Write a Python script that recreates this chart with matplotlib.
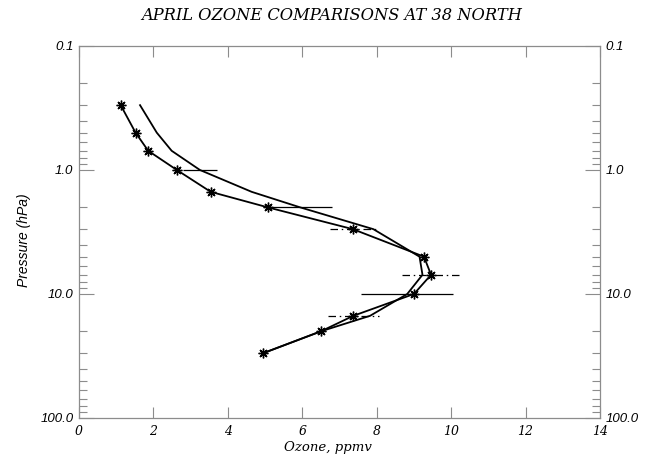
import matplotlib
matplotlib.use("Agg")
import matplotlib.pyplot as plt
from matplotlib.ticker import FixedLocator, FixedFormatter, NullFormatter, LogLocator
import numpy as np

# pressure levels (hPa)
pressure = [0.3, 0.5, 0.7, 1.0, 1.5, 2.0, 3.0, 5.0, 7.0, 10.0, 15.0, 20.0, 30.0]
# ozone with asterisks
ozone_star = [1.12, 1.52, 1.86, 2.63, 3.54, 5.07, 7.36, 9.27, 9.46, 9.00, 7.37, 6.50, 4.95]
# ozone, plain line
ozone_line = [1.64, 2.09, 2.49, 3.25, 4.64, 5.94, 7.91, 9.15, 9.23, 8.82, 7.82, 6.50, 4.95]

# solid error bars (around plain line)
err_solid_p = [1.0, 2.0, 10.0]
err_solid_x = [3.25, 5.93, 8.81]
err_solid_half = [0.45, 0.86, 1.23]
# dash-dot error bars (around asterisk line)
err_dd_p = [3.0, 7.0, 15.0]
err_dd_x = [7.36, 9.47, 7.38]
err_dd_half = [0.61, 0.80, 0.69]

xticks = [0, 2, 4, 6, 8, 10, 12, 14]
yticks = [0.1, 1.0, 10.0, 100.0]
ylabels = ["0.1", "1.0", "10.0", "100.0"]

frame_col = "#8c8c8c"
serif_it = dict(family="DejaVu Serif", style="italic")
sans_it = dict(family="Liberation Sans", style="italic")

fig = plt.figure(figsize=(6.53, 4.57), dpi=100)
ax = fig.add_axes([79 / 653, 1 - 418 / 457, 521 / 653, 372 / 457])

ax.plot(ozone_line, pressure, color="k", lw=1.3)
ax.plot(ozone_star, pressure, color="k", lw=1.3, marker=(8, 2, 0),
        markersize=7, markeredgewidth=1.0)

sx = np.array(err_solid_x)
sh = np.array(err_solid_half)
ax.hlines(err_solid_p, sx - sh, sx + sh, colors="k", linewidth=0.9)
dx = np.array(err_dd_x)
dh = np.array(err_dd_half)
ax.hlines(err_dd_p, dx - dh, dx + dh, colors="k", linewidth=0.9,
          linestyles=[(0, (6, 3, 1.2, 3))])

ax.set_yscale("log")
ax.set_ylim(100, 0.1)
ax.set_xlim(0, 14)

ax.xaxis.set_major_locator(FixedLocator(xticks))
ax.xaxis.set_major_formatter(FixedFormatter([str(t) for t in xticks]))
ax.yaxis.set_major_locator(FixedLocator(yticks))
ax.yaxis.set_major_formatter(FixedFormatter(ylabels))
ax.yaxis.set_minor_locator(LogLocator(base=10, subs=np.arange(2, 10)))
ax.yaxis.set_minor_formatter(NullFormatter())

ax.tick_params(axis="x", which="both", direction="in", top=True, bottom=True,
               length=8, width=0.8, color=frame_col, pad=5, labelsize=9)
ax.tick_params(axis="y", which="major", direction="in", left=True, right=True,
               labelleft=True, labelright=True, length=11, width=0.8,
               color=frame_col, pad=4, labelsize=9.5)
ax.tick_params(axis="y", which="minor", direction="in", left=True, right=True,
               length=5.5, width=0.8, color=frame_col)
for t in ax.xaxis.get_major_ticks():
    t.label1.set_fontfamily("DejaVu Serif")
    t.label1.set_fontstyle("italic")
for t in ax.yaxis.get_major_ticks():
    for lab in (t.label1, t.label2):
        lab.set_fontfamily("Liberation Sans")
        lab.set_fontstyle("italic")

for sp in ax.spines.values():
    sp.set_color(frame_col)
    sp.set_linewidth(0.9)

ax.set_xlabel("Ozone, ppmv", fontsize=9.5, **serif_it)
ax.xaxis.set_label_coords((328 - 79) / 521, -(447 - 418) / 372)
ax.xaxis.label.set_va("center")
ax.set_ylabel("Pressure (hPa)", fontsize=10, **sans_it)
ax.yaxis.set_label_coords(-(79 - 24) / 521, (418 - 240) / 372)
ax.yaxis.label.set_va("center")

fig.text(332 / 653, 1 - 15 / 457, "APRIL OZONE COMPARISONS AT 38 NORTH",
         ha="center", va="center", fontsize=11.7, **serif_it)

fig.savefig("out.png", dpi=100)
